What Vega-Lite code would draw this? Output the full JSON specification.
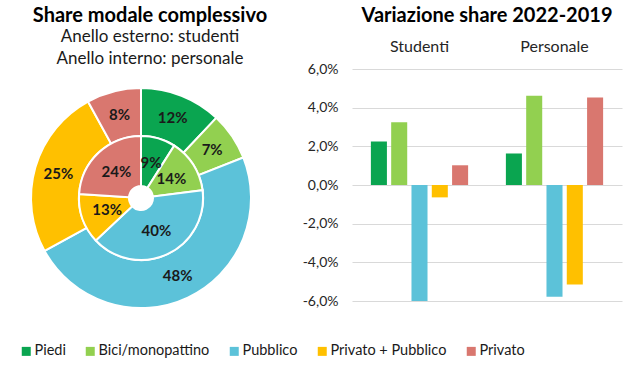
{
  "$schema": "https://vega.github.io/schema/vega-lite/v6.json",
  "padding": {"left": 19, "top": 6, "right": 5, "bottom": 5},
  "background": "white",
  "config": {
    "font": "Lato",
    "view": {"stroke": null},
    "title": {"font": "Lato", "fontSize": 20, "fontWeight": "bold", "color": "#000000", "anchor": "middle"}
  },
  "data": {
    "values": [
      {"gruppo": "Studenti", "modo": "Piedi", "ord": 1, "share": 0.12, "delta": 0.0225},
      {"gruppo": "Studenti", "modo": "Bici/monopattino", "ord": 2, "share": 0.07, "delta": 0.0325},
      {"gruppo": "Studenti", "modo": "Pubblico", "ord": 3, "share": 0.48, "delta": -0.060},
      {"gruppo": "Studenti", "modo": "Privato + Pubblico", "ord": 4, "share": 0.25, "delta": -0.0064},
      {"gruppo": "Studenti", "modo": "Privato", "ord": 5, "share": 0.08, "delta": 0.0102},
      {"gruppo": "Personale", "modo": "Piedi", "ord": 1, "share": 0.09, "delta": 0.0163},
      {"gruppo": "Personale", "modo": "Bici/monopattino", "ord": 2, "share": 0.14, "delta": 0.0462},
      {"gruppo": "Personale", "modo": "Pubblico", "ord": 3, "share": 0.40, "delta": -0.0578},
      {"gruppo": "Personale", "modo": "Privato + Pubblico", "ord": 4, "share": 0.13, "delta": -0.0515},
      {"gruppo": "Personale", "modo": "Privato", "ord": 5, "share": 0.24, "delta": 0.0453}
    ]
  },
  "bounds": "flush",
  "spacing": 101,
  "resolve": {"scale": {"color": "shared"}, "legend": {"color": "shared"}},
  "hconcat": [
    {
      "width": 220,
      "height": 258,
      "title": {
        "text": "Share modale complessivo",
        "subtitle": ["Anello esterno: studenti", "Anello interno: personale"],
        "subtitleFont": "Lato",
        "subtitleFontSize": 17,
        "subtitleColor": "#1a1a1a",
        "subtitleLineHeight": 22,
        "subtitlePadding": 3,
        "dx": 9,
        "offset": 2
      },
      "layer": [
        {
          "transform": [{"filter": "datum.gruppo === 'Studenti'"}],
          "mark": {"type": "arc", "radius": 110, "radius2": 62, "stroke": "white", "strokeWidth": 2},
          "encoding": {
            "theta": {"field": "share", "type": "quantitative", "stack": true},
            "order": {"field": "ord", "type": "quantitative"},
            "color": {"field": "modo", "type": "nominal",
              "scale": {"domain": ["Piedi", "Bici/monopattino", "Pubblico", "Privato + Pubblico", "Privato"],
                        "range": ["#0AA550", "#92D050", "#5CC2D9", "#FFC000", "#D9776F"]}}
          }
        },
        {
          "transform": [{"filter": "datum.gruppo === 'Personale'"}],
          "mark": {"type": "arc", "radius": 62, "radius2": 12, "stroke": "white", "strokeWidth": 2},
          "encoding": {
            "theta": {"field": "share", "type": "quantitative", "stack": true},
            "order": {"field": "ord", "type": "quantitative"},
            "color": {"field": "modo", "type": "nominal"}
          }
        },
        {
          "transform": [{"filter": "datum.gruppo === 'Studenti'"}],
          "mark": {"type": "text", "radius": 86, "fontSize": 15, "fontWeight": "bold", "color": "#1a1a1a", "font": "Lato"},
          "encoding": {
            "theta": {"field": "share", "type": "quantitative", "stack": true},
            "order": {"field": "ord", "type": "quantitative"},
            "text": {"field": "share", "type": "quantitative", "format": ".0%"}
          }
        },
        {
          "transform": [{"filter": "datum.gruppo === 'Personale'"}],
          "mark": {"type": "text", "radius": 36, "fontSize": 15, "fontWeight": "bold", "color": "#1a1a1a", "font": "Lato"},
          "encoding": {
            "theta": {"field": "share", "type": "quantitative", "stack": true},
            "order": {"field": "ord", "type": "quantitative"},
            "text": {"field": "share", "type": "quantitative", "format": ".0%"}
          }
        }
      ]
    },
    {
      "width": 270,
      "height": 232,
      "title": {"text": "Variazione share 2022-2019", "offset": 12},
      "mark": {"type": "bar"},
      "encoding": {
        "x": {"field": "gruppo", "type": "nominal", "sort": ["Studenti", "Personale"],
          "scale": {"paddingInner": 0, "paddingOuter": 0},
          "axis": {"orient": "top", "title": null, "labelAngle": 0, "domain": false, "ticks": false,
                   "labelFontSize": 16, "labelPadding": 15, "labelColor": "#262626", "labelFont": "Lato"}},
        "xOffset": {"field": "modo", "type": "nominal",
          "sort": ["Piedi", "Bici/monopattino", "Pubblico", "Privato + Pubblico", "Privato"],
          "scale": {"paddingInner": 0.21, "paddingOuter": 0.93}},
        "y": {"field": "delta", "type": "quantitative",
          "scale": {"domain": [-0.06, 0.06], "nice": false},
          "axis": {"values": [-0.06, -0.04, -0.02, 0, 0.02, 0.04, 0.06], "title": null, "domain": false, "ticks": false,
                   "labelExpr": "replace(replace(format(datum.value, '.1%'), '.', ','), '\u2212', '-')",
                   "labelFontSize": 14, "labelPadding": 14, "labelColor": "#262626", "labelFont": "Lato",
                   "gridColor": "#D9D9D9", "gridWidth": 1}},
        "color": {"field": "modo", "type": "nominal",
          "legend": {"orient": "none", "legendX": -12, "legendY": 275, "direction": "horizontal", "title": null,
                     "symbolType": "square", "symbolSize": 81, "symbolStrokeWidth": 0, "labelFontSize": 14.5,
                     "labelFont": "Lato", "labelColor": "#1a1a1a", "columnPadding": 17, "labelOffset": 1, "labelLimit": 300}}
      }
    }
  ]
}
